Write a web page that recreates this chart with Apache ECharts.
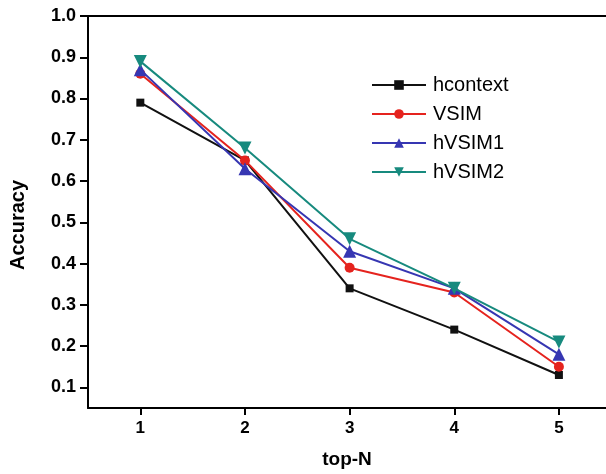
<!DOCTYPE html>
<html>
<head>
<meta charset="utf-8">
<script src="https://cdn.jsdelivr.net/npm/echarts@6/dist/echarts.min.js"></script>
<style>html,body{margin:0;padding:0;background:#fff}#c{width:606px;height:474px}</style>
</head>
<body>
<div id="c"></div>
<script>
const categories = [1, 2, 3, 4, 5];
const hcontext = [0.79, 0.65, 0.34, 0.24, 0.13];
const VSIM = [0.86, 0.65, 0.39, 0.33, 0.15];
const hVSIM1 = [0.87, 0.63, 0.43, 0.34, 0.18];
const hVSIM2 = [0.89, 0.68, 0.46, 0.34, 0.21];
const seriesNames = ['hcontext', 'VSIM', 'hVSIM1', 'hVSIM2'];
const yTicks = [0.1, 0.2, 0.3, 0.4, 0.5, 0.6, 0.7, 0.8, 0.9, 1.0];

const chart = echarts.init(document.getElementById('c'), null, {renderer: 'canvas'});
function pts(arr) { return categories.map((x, i) => [x, arr[i]]); }
const styles = [
  {color: '#111111', symbol: 'rect', size: 8, rotate: 0},
  {color: '#e5231e', symbol: 'circle', size: 10, rotate: 0},
  {color: '#3636b2', symbol: 'triangle', size: 13, rotate: 0},
  {color: '#178a7e', symbol: 'triangle', size: 13, rotate: 180}
];
const dataSets = [hcontext, VSIM, hVSIM1, hVSIM2];
const font = '"Liberation Sans", Arial, sans-serif';
chart.setOption({
  animation: false,
  backgroundColor: '#fff',
  grid: {left: 87, right: 0, top: 16, bottom: 65},
  legend: {
    data: seriesNames,
    orient: 'vertical',
    left: 366, top: 70,
    itemWidth: 54, itemHeight: 12, itemGap: 9,
    textStyle: {fontFamily: font, fontSize: 20, color: '#000', padding: [0, 0, 0, 2]}
  },
  xAxis: [{
    type: 'value', min: 0.5, max: 5.45, interval: 1,
    name: 'top-N', nameLocation: 'middle', nameGap: 42,
    nameTextStyle: {fontFamily: font, fontSize: 19, fontWeight: 'bold', color: '#000'},
    axisLine: {lineStyle: {color: '#000', width: 2}},
    axisTick: {show: true, length: 7, inside: false, lineStyle: {width: 2, color: '#000'}, customValues: categories},
    minorTick: {show: true, splitNumber: 2, length: 4, lineStyle: {width: 2, color: '#000'}},
    axisLabel: {fontFamily: font, fontSize: 17, fontWeight: 'bold', color: '#000', margin: 12, customValues: categories},
    splitLine: {show: false}
  }, {
    type: 'value', position: 'top', min: 0.5, max: 5.45,
    axisLine: {show: true, lineStyle: {color: '#000', width: 2}},
    axisTick: {show: false}, axisLabel: {show: false}, splitLine: {show: false}
  }],
  yAxis: {
    type: 'value', min: 0.05, max: 1.0,
    name: 'Accuracy', nameLocation: 'middle', nameGap: 60,
    nameTextStyle: {fontFamily: font, fontSize: 20, fontWeight: 'bold', color: '#000', padding: [0, 26, 0, 0]},
    axisLine: {show: true, lineStyle: {color: '#000', width: 2}},
    axisTick: {show: true, length: 8, lineStyle: {width: 2, color: '#000'}, customValues: yTicks},
    minorTick: {show: true, splitNumber: 2, length: 4, lineStyle: {width: 2, color: '#000'}},
    axisLabel: {fontFamily: font, fontSize: 18, fontWeight: 'bold', color: '#000', margin: 12,
      customValues: yTicks, formatter: v => v.toFixed(1)},
    splitLine: {show: false}
  },
  series: seriesNames.map((n, i) => ({
    name: n, type: 'line', data: pts(dataSets[i]),
    symbol: styles[i].symbol, symbolSize: styles[i].size, symbolRotate: styles[i].rotate,
    color: styles[i].color,
    lineStyle: {color: styles[i].color, width: 2},
    itemStyle: {color: styles[i].color},
    z: 2 + i
  }))
});
</script>
</body>
</html>
